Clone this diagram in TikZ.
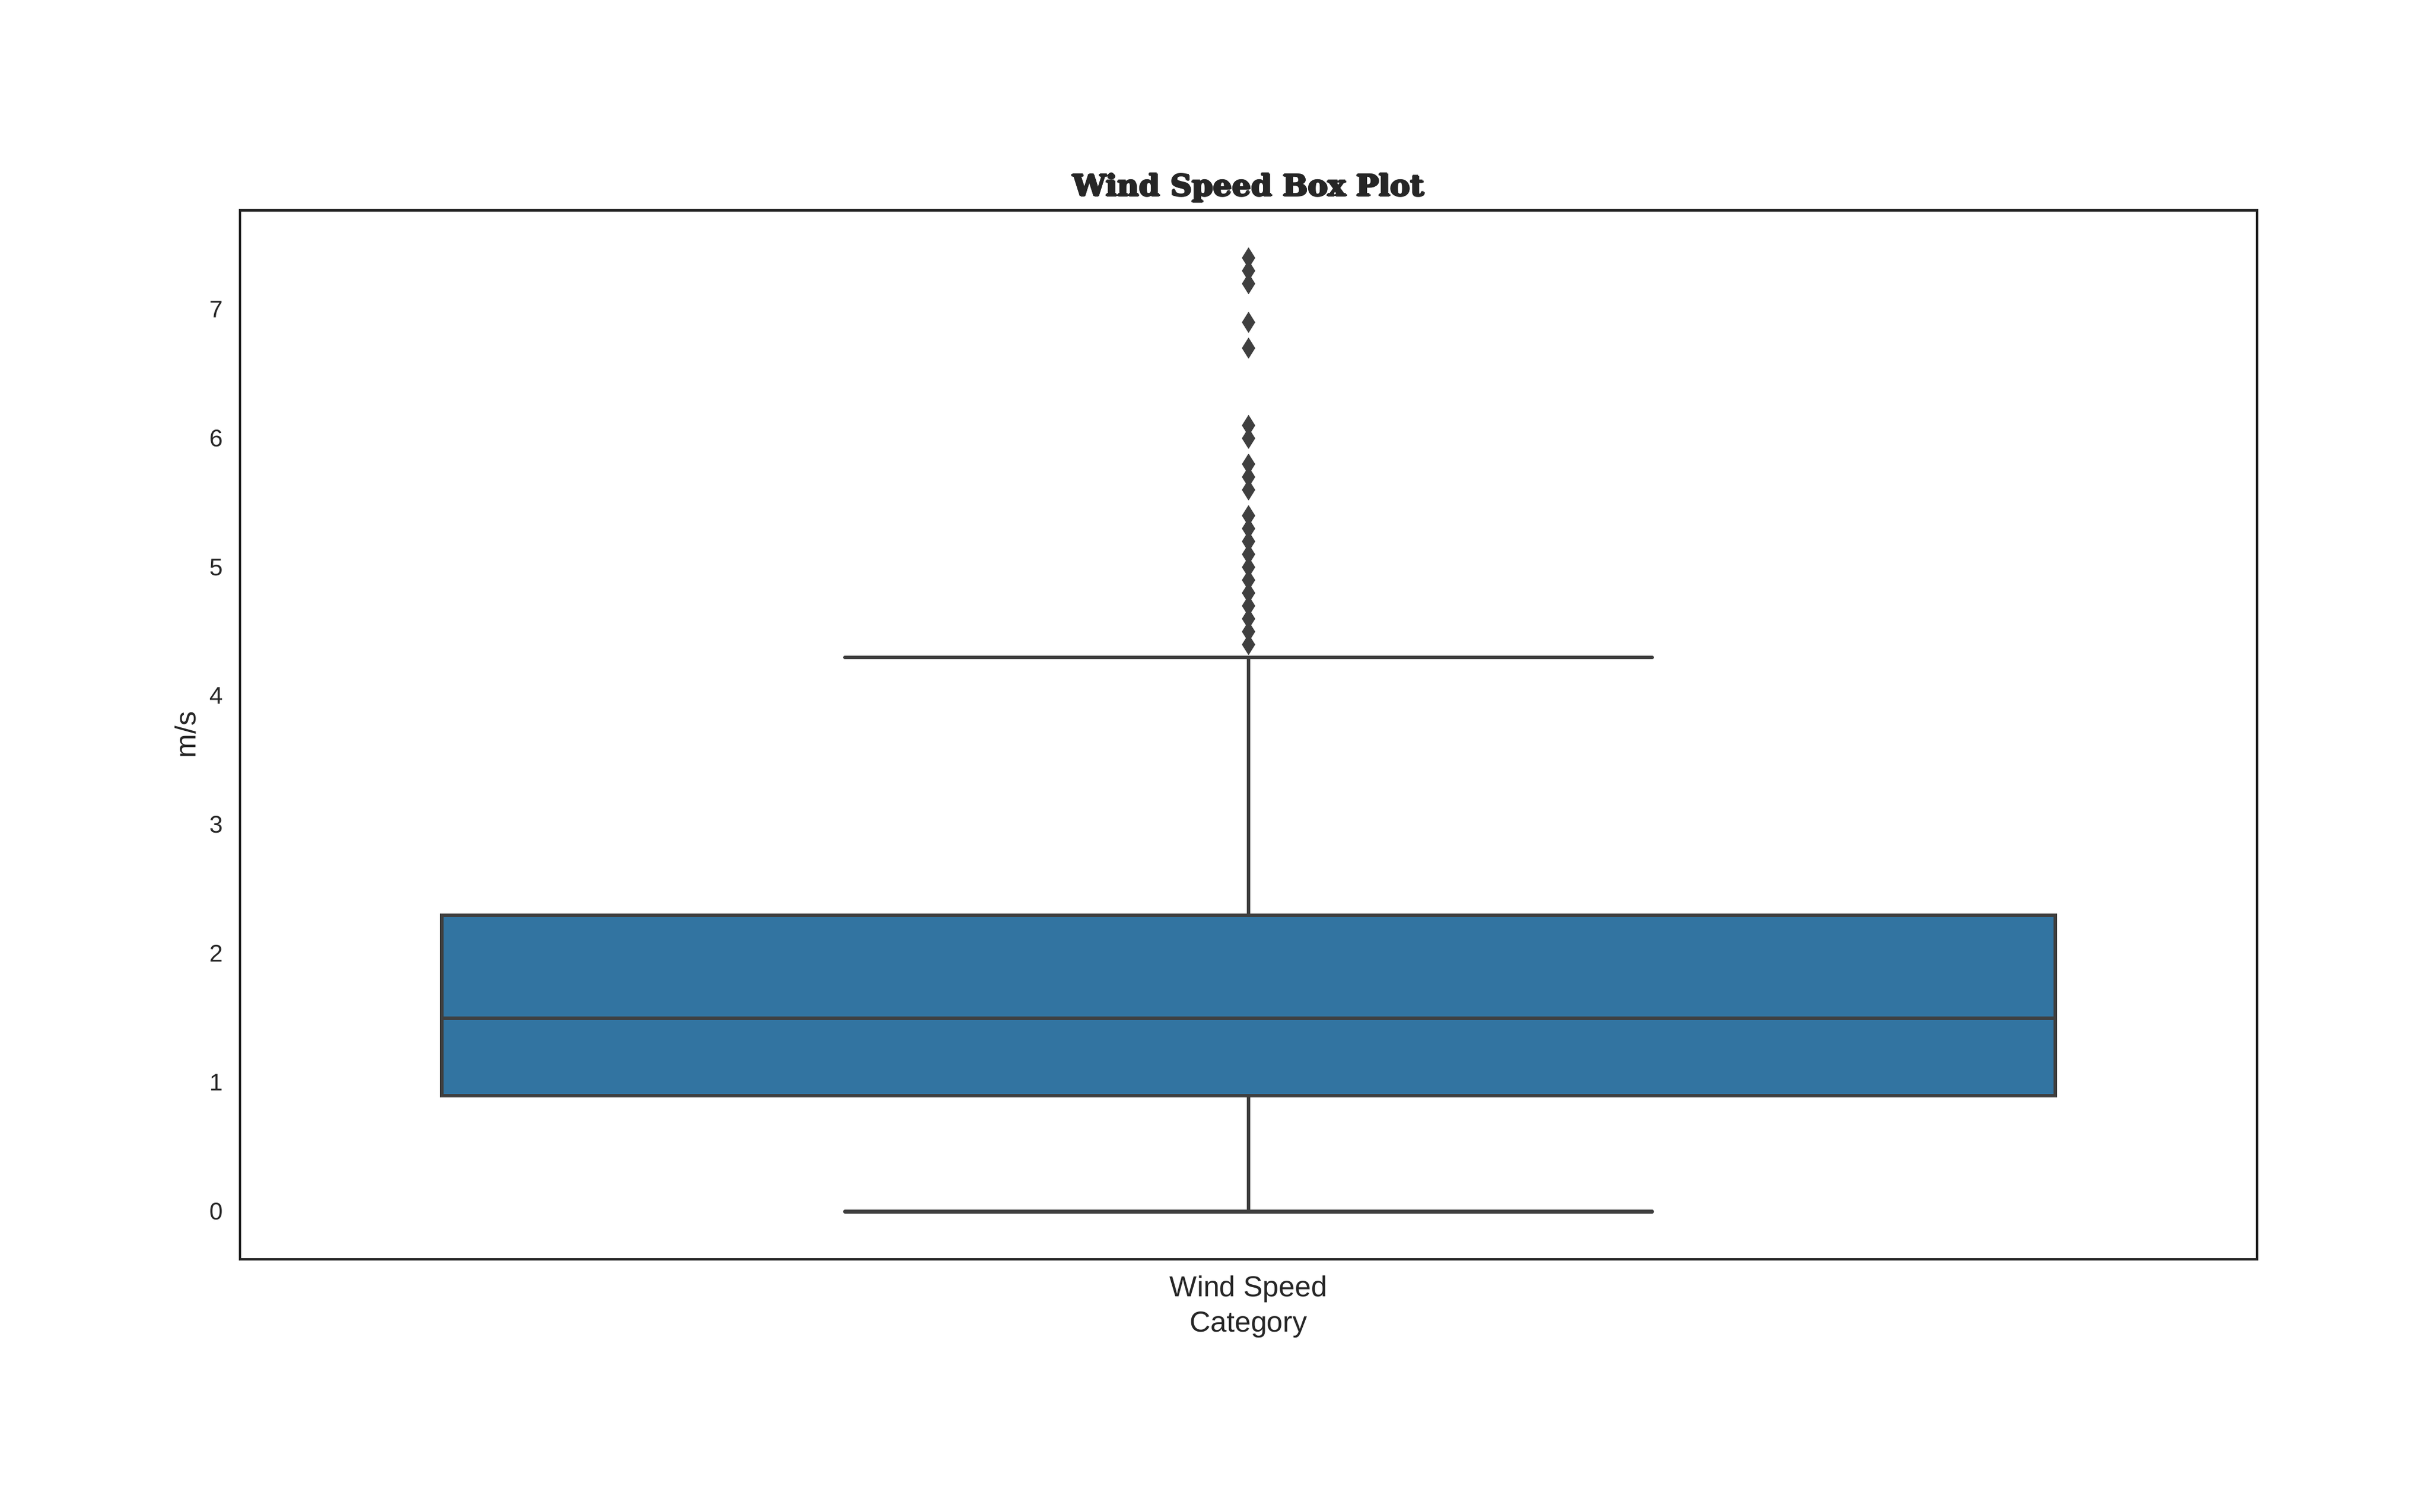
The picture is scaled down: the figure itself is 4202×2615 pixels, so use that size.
\documentclass[tikz,border=0pt]{standalone}
\usepackage{fontspec}
\usepackage{graphicx}
\setmainfont{Liberation Sans}
\newfontfamily\titlefont{DejaVu Serif}
\definecolor{boxblue}{HTML}{3274A1}
\definecolor{linegray}{HTML}{3F3F3F}
\definecolor{axisgray}{HTML}{262626}
\def\yv#1{(2095.5-222.9*(#1))}
\begin{document}
\begin{tikzpicture}[x=0.24pt,y=-0.24pt,
  frame/.style={draw=axisgray,line width=1.1pt},
  boxpart/.style={draw=linegray,line width=1.5pt},
  whisk/.style={draw=linegray,line width=1.5pt,line cap=round},
  flier/.style={fill=linegray},
  ticklab/.style={font=\fontsize{10pt}{12pt}\selectfont,text=axisgray,anchor=base east,inner sep=0pt},
  lab/.style={font=\fontsize{12pt}{14pt}\selectfont,text=axisgray,anchor=base,inner sep=0pt},
  titlelab/.style={anchor=base,inner sep=0pt,text=axisgray}]
\useasboundingbox (0,0) rectangle (4202,2615);
\fill[white] (0,0) rectangle (4202,2615);
% axes frame
\coordinate (axNW) at (415,363.5);
\coordinate (axSE) at (3903,2178);
\draw[frame] (axNW) rectangle (axSE);
% whiskers
\coordinate (wlo) at (2159,{\yv{0}});
\coordinate (whi) at (2159,{\yv{4.3}});
\coordinate (q1) at (2159,{\yv{0.9}});
\coordinate (q3) at (2159,{\yv{2.3}});
\coordinate (capLoL) at (1461,{\yv{0}});
\coordinate (capLoR) at (2857,{\yv{0}});
\coordinate (capHiL) at (1461,{\yv{4.3}});
\coordinate (capHiR) at (2857,{\yv{4.3}});
\draw[whisk] (q1) -- (wlo);
\draw[whisk] (q3) -- (whi);
\draw[whisk] (capLoL) -- (capLoR);
\draw[whisk] (capHiL) -- (capHiR);
% box
\coordinate (boxNW) at (764,{\yv{2.3}});
\coordinate (boxSE) at (3554,{\yv{0.9}});
\coordinate (medL) at (764,{\yv{1.5}});
\coordinate (medR) at (3554,{\yv{1.5}});
\draw[boxpart,fill=boxblue] (boxNW) rectangle (boxSE);
\draw[boxpart] (medL) -- (medR);
% fliers
\foreach \v in {4.4,4.5,4.6,4.7,4.8,4.9,5.0,5.1,5.2,5.3,5.4,5.6,5.7,5.8,6.0,6.1,6.7,6.9,7.2,7.3,7.4}{
  \fill[flier] (2159,{\yv{\v}}) +(0,-18.3) -- +(11.5,0) -- +(0,18.3) -- +(-11.5,0) -- cycle;
}
% y tick labels
\foreach \v in {0,...,7}{
  \node[ticklab] (yt\v) at (387,{\yv{\v}+14}) {\v};
}
% labels
\node[lab,rotate=90] (ylab) at (338,1271) {m/s};
\node[lab] (xt) at (2159,2242) {Wind Speed};
\node[lab] (xlab) at (2159,2303) {Category};
% title (overprinted with small offsets for a heavier weight)
\foreach \dx/\dy [count=\i] in {-1.6/0,1.6/0,0/-1.2,0/1.2,-1.1/-0.8,1.1/0.8,0/0}{
  \node[titlelab] (title\i) at ({2159+\dx},{339+\dy})
    {\resizebox{145.9pt}{9.3pt}{\titlefont\bfseries Wind Speed Box Plot}};
}
\end{tikzpicture}
\end{document}
